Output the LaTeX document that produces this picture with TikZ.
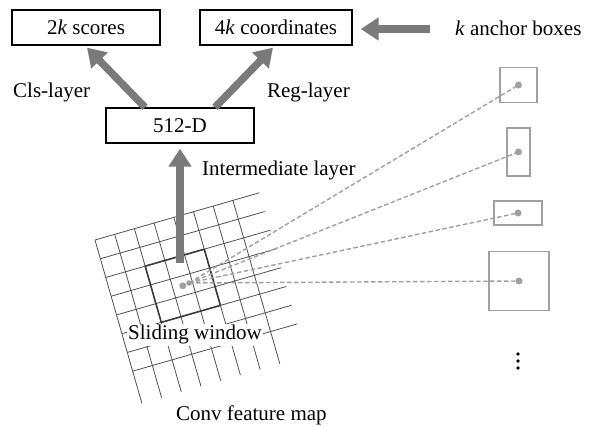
\documentclass[tikz,border=0pt]{standalone}
\usepackage{fontspec}
\setmainfont{Liberation Serif}
\usetikzlibrary{arrows.meta,calc}
\definecolor{arrowgray}{HTML}{7A7A7A}
\definecolor{dashgray}{HTML}{A0A0A0}
\definecolor{gridgray}{HTML}{505050}
\definecolor{wingray}{HTML}{3C3C3C}
\begin{document}
\begin{tikzpicture}[x=1pt,y=-1pt,
  font=\fontsize{21}{25}\selectfont,
  box/.style={draw=black,line width=1.3pt,fill=white,minimum width=148pt,minimum height=35pt,inner sep=0pt},
  fat/.style={draw=arrowgray,line width=7.5pt,-{Triangle[width=22pt,length=18pt]}},
  anchorbox/.style={draw=dashgray,line width=1.3pt,inner sep=0pt},
  dashline/.style={draw=dashgray,line width=1.4pt,dash pattern=on 4.5pt off 2.5pt},
  gridline/.style={draw=gridgray,line width=0.8pt},
  winline/.style={draw=wingray,line width=1.6pt,line join=round},
  lbl/.style={inner sep=0pt,anchor=base west},
]
\useasboundingbox (0,0) rectangle (595,427);

% top boxes
\node[box] (sc) at (86,27.5) {2\textit{k} scores};
\node[box,minimum width=152pt] (co) at (276,27.5) {4\textit{k} coordinates};
\node[box] (d) at (180,125.5) {512-D};

% labels
\node[lbl] (kt) at (455,36) {\textit{k} anchor boxes};
\node[lbl] (cls) at (13,98) {Cls-layer};
\node[lbl,anchor=base east] (reg) at (350,98) {Reg-layer};
\node[lbl] (inter) at (202,176) {Intermediate layer};

% feature map grid
\begin{scope}[shift={(95pt,-240pt)}, x={(0.961pt,0.276pt)}, y={(0.276pt,-0.961pt)}]
  \foreach \i in {0,...,7} \draw[gridline] (0,\i*19.5) -- (171,\i*19.5);
  \foreach \j in {0,...,7} \draw[gridline] (\j*20.5,0) -- (\j*20.5,170);
  \draw[winline] (41,39) -- (102.5,39) -- (102.5,97.5) -- (41,97.5) -- cycle;
  \coordinate (c) at (71.75,68.25);
\end{scope}
\coordinate (s) at (189,283);

\node[lbl,fill=white,inner sep=1pt] (sw) at (127,340) {Sliding window};
\node[lbl] (cf) at (176,421) {Conv feature map};

% thick arrows
\coordinate (ib) at (180,263);
\draw[fat] (ib) -- ($(d.south)+(0,5)$);
\draw[fat] ($(d.north)+(-35,0)$) -- ($(sc.south)+(1,2)$);
\draw[fat] ($(d.north)+(35,0)$) -- ($(co.south)+(-3,2)$);
\coordinate (ka) at (430,29);
\draw[fat] (ka) -- ($(co.east)+(8,1.5)$);

% anchor boxes
\node[anchorbox,minimum width=37pt,minimum height=35pt] (a1) at (518.5,85) {};
\node[anchorbox,minimum width=23pt,minimum height=48pt] (a2) at (518.5,152) {};
\node[anchorbox,minimum width=48pt,minimum height=24pt] (a3) at (518,213) {};
\node[anchorbox,minimum width=60pt,minimum height=59pt] (a4) at (519,281) {};

\foreach \a in {a1,a2,a3,a4} \draw[dashline] (s) -- (\a.center);
\foreach \a in {a1,a2,a3,a4} \fill[dashgray] (\a.center) circle (3.5pt);
\fill[dashgray] (c) circle (3.5pt);
\fill[dashgray] (s) circle (2.8pt);

% vertical ellipsis
\foreach \yy in {354,361,368} \fill[black] (518,\yy) circle (1.9pt);
\end{tikzpicture}
\end{document}
